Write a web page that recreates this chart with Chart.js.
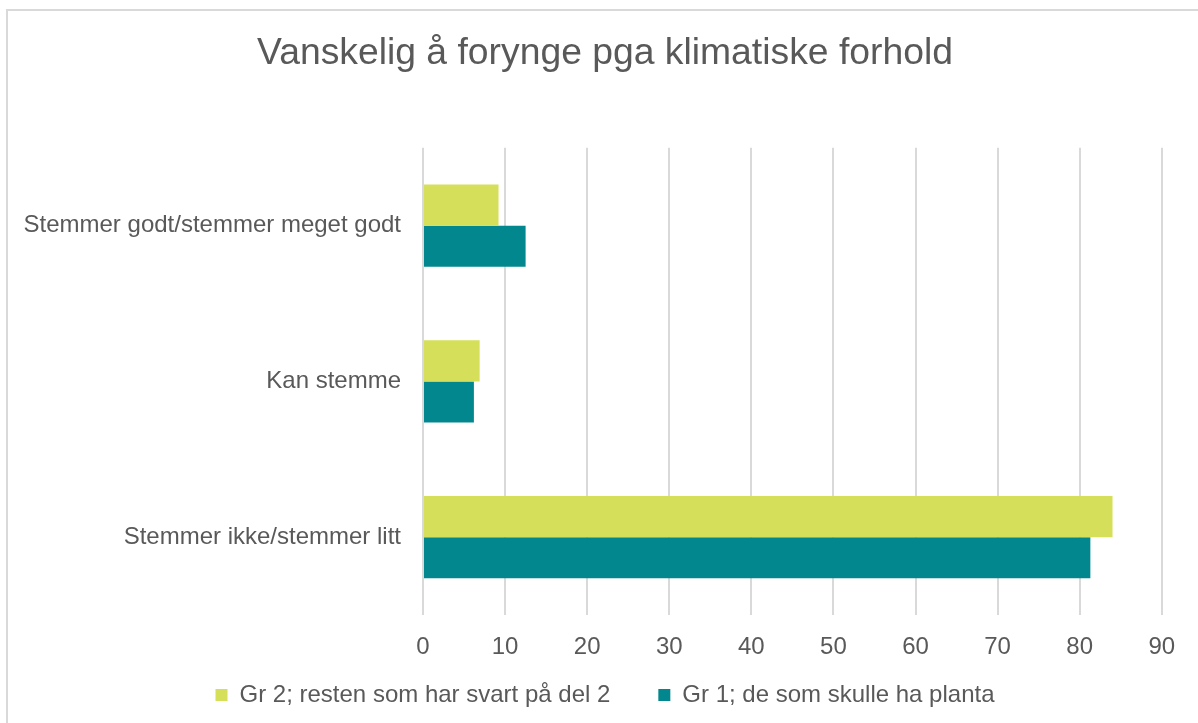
<!DOCTYPE html>
<html>
<head>
<meta charset="utf-8">
<script src="https://cdn.jsdelivr.net/npm/chart.js@4.4.0/dist/chart.umd.min.js"></script>
<style>
    body { margin: 0; background: #fff; overflow: hidden; }
    .frame {
        position: absolute; left: 6px; top: 9px;
        width: 1300px; height: 800px;
        border-top: 2px solid #d9d9d9;
        border-left: 2px solid #d9d9d9;
    }
    .wrap { position: absolute; left: 0; top: 0; width: 1194px; height: 712px; }
</style>
</head>
<body>
<div class="frame">
    <div class="wrap"><canvas class="chart"></canvas></div>
</div>
<script>
// Kategorier (y-akse) og serier
const categories = ["Stemmer godt/stemmer meget godt", "Kan stemme", "Stemmer ikke/stemmer litt"];
const gr2Values = [9.2, 6.9, 84.0];   // Gr 2; resten som har svart på del 2
const gr1Values = [12.5, 6.2, 81.3];  // Gr 1; de som skulle ha planta
const xTicks = [0, 10, 20, 30, 40, 50, 60, 70, 80, 90];

const textColor = '#595959';
const fontFamily = '"Liberation Sans", Arial, sans-serif';

document.addEventListener("DOMContentLoaded", () => {
    const ctx = document.querySelector('.chart').getContext('2d');

    new Chart(ctx, {
        type: 'bar',
        data: {
            labels: categories,
            datasets: [
                {
                    label: 'Gr 2; resten som har svart på del 2',
                    data: gr2Values,
                    backgroundColor: '#d5df5a'
                },
                {
                    label: 'Gr 1; de som skulle ha planta',
                    data: gr1Values,
                    backgroundColor: '#02878e'
                }
            ]
        },
        options: {
            indexAxis: 'y',
            responsive: true,
            maintainAspectRatio: false,
            animation: false,
            categoryPercentage: 0.527,
            barPercentage: 1.0,
            layout: { padding: { left: 0, right: 0, top: 0, bottom: 6 } },
            plugins: {
                title: {
                    display: true,
                    text: 'Vanskelig å forynge pga klimatiske forhold',
                    color: textColor,
                    font: { family: fontFamily, size: 37.3, weight: 'normal' },
                    padding: { top: 20, bottom: 72 }
                },
                legend: {
                    position: 'bottom',
                    labels: {
                        color: textColor,
                        font: { family: fontFamily, size: 24 },
                        boxWidth: 12,
                        boxHeight: 12,
                        padding: 48
                    }
                },
                tooltip: { enabled: false }
            },
            scales: {
                x: {
                    min: 0,
                    max: 94.9, // luft til høyre, gitterlinjer bare til 90
                    afterBuildTicks: scale => { scale.ticks = xTicks.map(v => ({ value: v })); },
                    afterFit: scale => { scale.height = 20; },
                    grid: { color: '#d9d9d9', lineWidth: 2, drawTicks: false },
                    border: { display: false },
                    ticks: {
                        color: textColor,
                        font: { family: fontFamily, size: 24 },
                        mirror: true,
                        padding: -47
                    }
                },
                y: {
                    afterFit: scale => { scale.width = 415; },
                    grid: { display: false, drawTicks: false },
                    border: { display: false },
                    ticks: {
                        color: textColor,
                        font: { family: fontFamily, size: 24 },
                        padding: 22
                    }
                }
            }
        }
    });
});
</script>
</body>
</html>
